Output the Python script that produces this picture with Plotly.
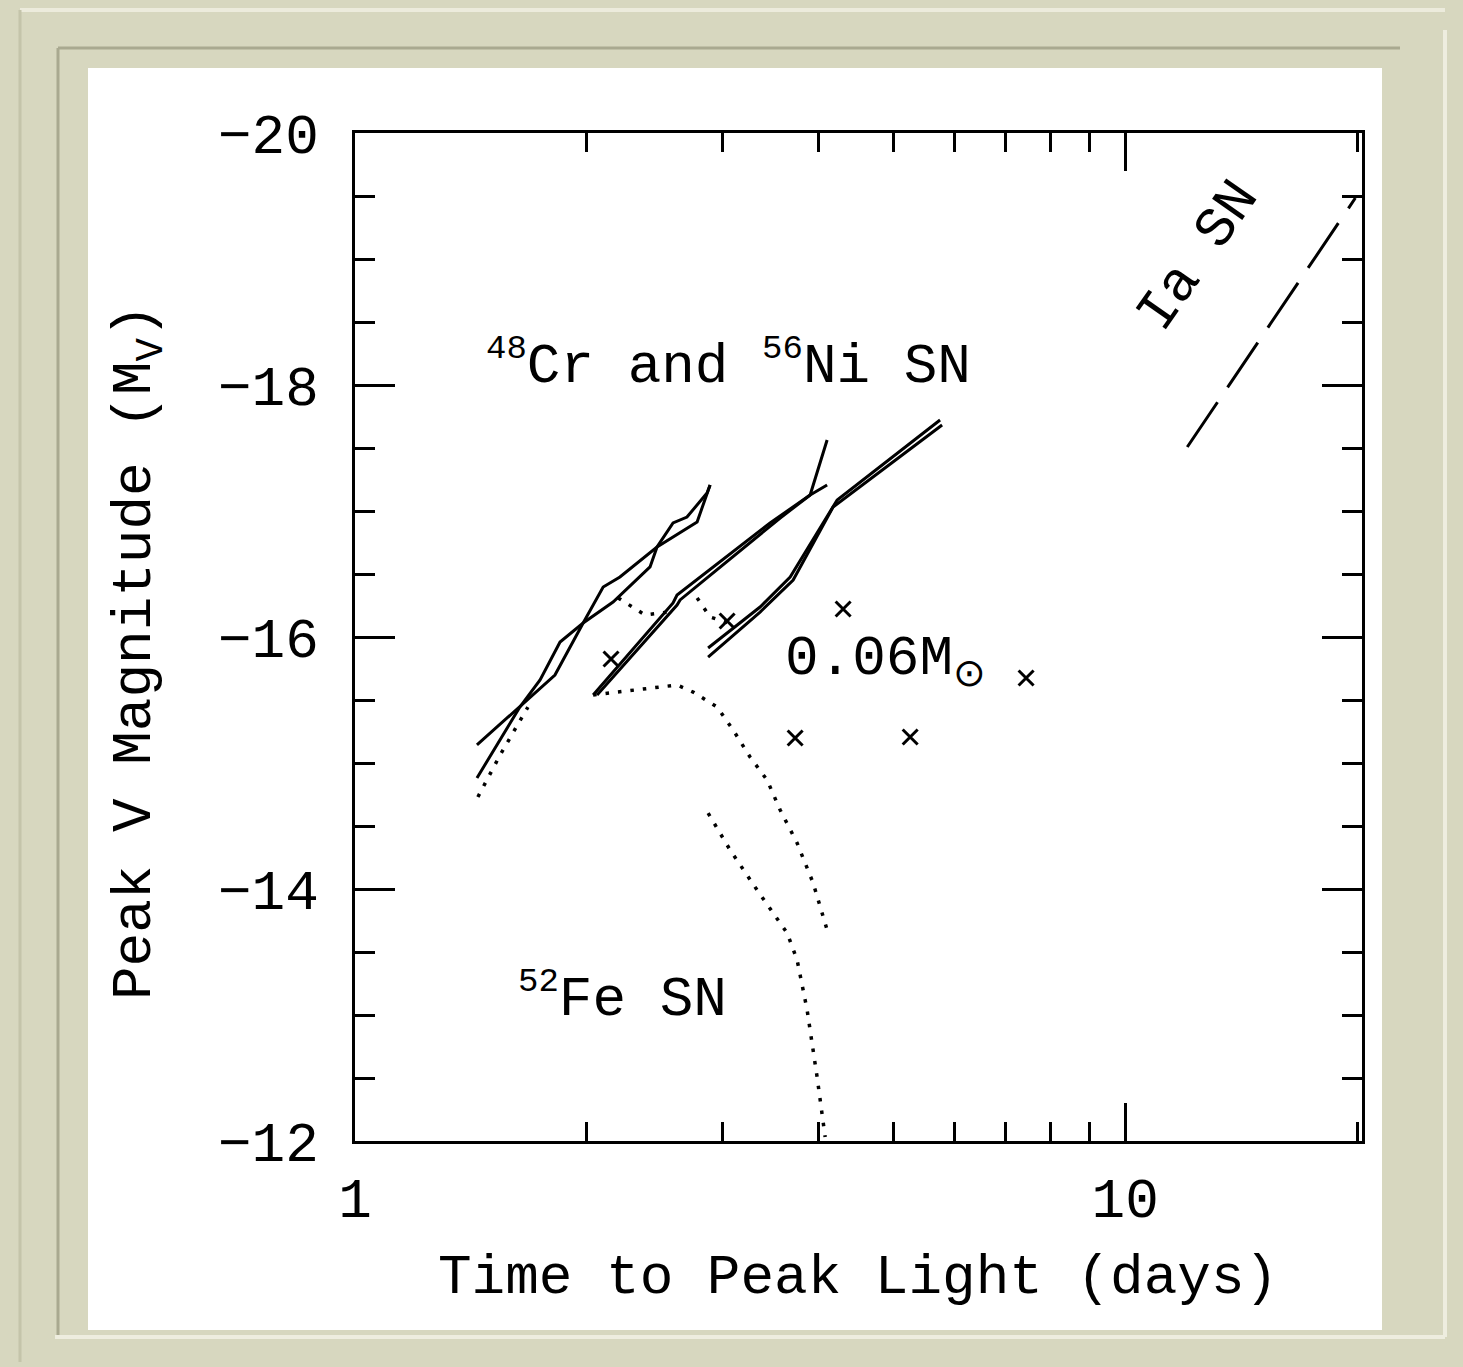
import plotly.graph_objects as go

# ---------------- data ----------------
# 48Cr / 56Ni model curves (solid)
g1a_t = [1.440, 1.637, 1.818, 1.978, 2.100, 2.208, 2.467, 2.781, 2.891]
g1a_m = [-15.143, -15.444, -15.698, -16.111, -16.397, -16.476, -16.714, -16.913, -17.206]
g1b_t = [1.440, 1.637, 1.739, 1.846, 1.978, 2.163, 2.416, 2.467, 2.588, 2.698, 2.865, 2.891]
g1b_m = [-14.881, -15.444, -15.659, -15.960, -16.111, -16.278, -16.556, -16.714, -16.905, -16.952, -17.143, -17.206]

g2a_t = [2.038, 2.588, 2.619, 3.459, 3.899, 4.102]
g2a_m = [-15.540, -16.270, -16.333, -16.905, -17.127, -17.206]
g2b_t = [2.062, 2.619, 2.643, 3.565, 3.899, 4.102]
g2b_m = [-15.540, -16.254, -16.294, -16.944, -17.127, -17.563]

g3a_t = [2.874, 3.357, 3.673, 4.227, 5.750]
g3a_m = [-15.913, -16.238, -16.476, -17.087, -17.722]
g3b_t = [2.874, 3.357, 3.706, 4.176, 5.785]
g3b_m = [-15.841, -16.198, -16.452, -17.032, -17.683]

# dotted curves (52Fe models and connectors)
d1_t = [1.444, 1.543, 1.677]
d1_m = [-14.730, -15.063, -15.444]
d2_t = [2.196, 2.380, 2.550]
d2_m = [-16.310, -16.175, -16.198]
d3_t = [2.781, 2.891, 3.115]
d3_m = [-16.310, -16.159, -16.095]
d4_t = [2.038, 2.619, 2.748, 2.953, 3.097, 3.258, 3.428, 3.565, 3.750, 3.934, 4.102]
d4_m = [-15.540, -15.619, -15.563, -15.444, -15.262, -15.048, -14.865, -14.627, -14.365, -14.048, -13.675]
d5_t = [2.874, 3.069, 3.327, 3.640, 3.750, 3.864, 3.981, 4.078]
d5_m = [-14.603, -14.310, -13.992, -13.651, -13.437, -13.040, -12.508, -12.032]

# 0.06 Msun points
x_t = [2.150, 3.042, 4.303, 3.728, 5.258, 7.436]
x_m = [-15.825, -16.127, -16.222, -15.198, -15.206, -15.675]

# Type Ia SN (long dashed)
ia_t = [12.04, 19.90]
ia_m = [-17.508, -19.484]

# axis ticks
x_major = [1, 10]
x_major_text = ["1", "10"]
x_minor = [2, 3, 4, 5, 6, 7, 8, 9, 20]
y_major = [-20, -18, -16, -14, -12]
y_major_text = ["\u221220", "\u221218", "\u221216", "\u221214", "\u221212"]

FONT = "Liberation Mono"
FS = 56
BLACK = "#000000"

fig = go.Figure()

solid = dict(color=BLACK, width=3)
for t, m in [(g1a_t, g1a_m), (g1b_t, g1b_m), (g2a_t, g2a_m), (g2b_t, g2b_m),
             (g3a_t, g3a_m), (g3b_t, g3b_m)]:
    fig.add_trace(go.Scatter(x=t, y=m, mode="lines", line=solid, showlegend=False))

dotted = dict(color=BLACK, width=3.5, dash="3.5px,9px")
for t, m in [(d1_t, d1_m), (d2_t, d2_m), (d3_t, d3_m), (d4_t, d4_m), (d5_t, d5_m)]:
    fig.add_trace(go.Scatter(x=t, y=m, mode="lines", line=dotted, showlegend=False))

fig.add_trace(go.Scatter(x=x_t, y=x_m, mode="markers", showlegend=False,
                         marker=dict(symbol="x-thin", size=15,
                                     line=dict(color=BLACK, width=3))))

fig.add_trace(go.Scatter(x=ia_t, y=ia_m, mode="lines", showlegend=False,
                         line=dict(color=BLACK, width=3, dash="54px,18px")))

# ---------------- layout ----------------
W, H = 1463, 1367
L, R, T, B = 355, 101, 133, 226
PW, PH = W - L - R, H - T - B


def px(xp):
    return (xp - L) / PW


def py(yp):
    return (H - B - yp) / PH


BEIGE = "#d7d7bf"
shapes = [
    # white page
    dict(type="rect", xref="paper", yref="paper", layer="below",
         x0=px(88), x1=px(1382), y0=py(1330), y1=py(68),
         fillcolor="white", line=dict(width=0)),
    # frame decoration
    dict(type="line", xref="paper", yref="paper", layer="below",
         x0=px(20), x1=px(1445), y0=py(10), y1=py(10),
         line=dict(color="#ecebdc", width=4)),
    dict(type="line", xref="paper", yref="paper", layer="below",
         x0=px(20), x1=px(20), y0=py(10), y1=py(1362),
         line=dict(color="#c4c4aa", width=3)),
    dict(type="line", xref="paper", yref="paper", layer="below",
         x0=px(58), x1=px(1400), y0=py(48), y1=py(48),
         line=dict(color="#a9a990", width=3)),
    dict(type="line", xref="paper", yref="paper", layer="below",
         x0=px(58), x1=px(58), y0=py(48), y1=py(1336),
         line=dict(color="#a9a990", width=3)),
    dict(type="line", xref="paper", yref="paper", layer="below",
         x0=px(55), x1=px(1445), y0=py(1337), y1=py(1337),
         line=dict(color="#eeeddf", width=4)),
    dict(type="line", xref="paper", yref="paper", layer="below",
         x0=px(1445), x1=px(1445), y0=py(30), y1=py(1337),
         line=dict(color="#eeeddf", width=4)),
]


def sup(s):
    return '<sup><span style="font-size:34px">' + s + '</span></sup>'


txt = dict(family=FONT, size=FS, color=BLACK)
annotations = [
    dict(text=sup("48") + "Cr and " + sup("56") + "Ni SN", x=0.4844, y=-18.16,
         xref="x", yref="y", showarrow=False, font=txt, xanchor="center", yanchor="middle"),
    dict(text="0.06M<sub>\u2299</sub>", x=0.6883, y=-15.80,
         xref="x", yref="y", showarrow=False, font=txt, xanchor="center", yanchor="middle"),
    dict(text=sup("52") + "Fe SN", x=0.3468, y=-13.14,
         xref="x", yref="y", showarrow=False, font=txt, xanchor="center", yanchor="middle"),
    dict(text="Ia SN", x=1.0960, y=-19.02, textangle=-55,
         xref="x", yref="y", showarrow=False, font=txt, xanchor="center", yanchor="middle"),
    dict(text="Time to Peak Light (days)", x=px(858), y=py(1278),
         xref="paper", yref="paper", showarrow=False, font=txt,
         xanchor="center", yanchor="middle"),
    dict(text="Peak V Magnitude (M<sub>V</sub>)", x=px(138), y=py(652), textangle=-90,
         xref="paper", yref="paper", showarrow=False, font=txt,
         xanchor="center", yanchor="middle"),
]

fig.update_layout(
    width=W, height=H,
    margin=dict(l=L, r=R, t=T, b=B, pad=0),
    paper_bgcolor=BEIGE, plot_bgcolor="white",
    shapes=shapes, annotations=annotations,
    showlegend=False,
    font=dict(family=FONT, size=FS, color=BLACK),
)

fig.update_xaxes(
    type="log", range=[0, 1.3075],
    showgrid=False, zeroline=False,
    showline=True, linecolor=BLACK, linewidth=3, mirror="ticks",
    ticks="inside", ticklen=38, tickwidth=3, tickcolor=BLACK,
    tickmode="array", tickvals=x_major, ticktext=x_major_text,
    ticklabelstandoff=6,
    tickfont=txt,
    minor=dict(tickmode="array", tickvals=x_minor, ticks="inside",
               ticklen=19, tickwidth=3, tickcolor=BLACK, showgrid=False),
)
fig.update_yaxes(
    range=[-12, -20],
    showgrid=False, zeroline=False,
    showline=True, linecolor=BLACK, linewidth=3, mirror="ticks",
    ticks="inside", ticklen=40, tickwidth=3, tickcolor=BLACK,
    tickmode="array", tickvals=y_major, ticktext=y_major_text,
    ticklabelstandoff=22,
    tickfont=txt,
    minor=dict(dtick=0.5, tick0=-20, ticks="inside",
               ticklen=20, tickwidth=3, tickcolor=BLACK, showgrid=False),
)

fig.write_html("out.html", config={"displayModeBar": False},
               post_script="document.body.style.margin='0px';document.body.style.overflow='hidden';")
